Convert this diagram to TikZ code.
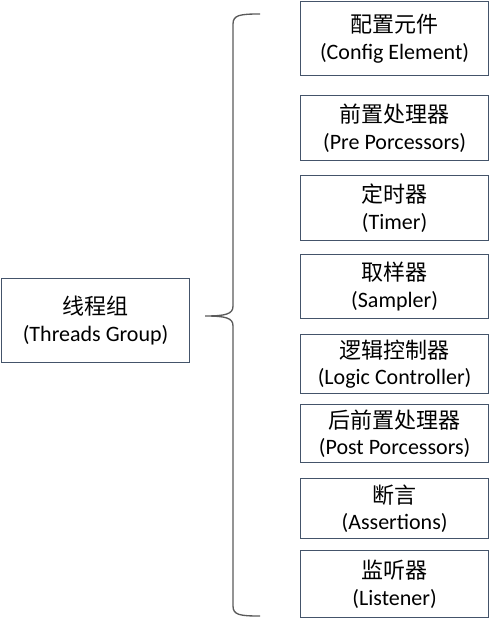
\documentclass[tikz,border=0pt]{standalone}
\usepackage{fontspec}
\setmainfont{Carlito}
\newfontfamily\cjk{Noto Sans CJK SC}
\begin{document}
\begin{tikzpicture}[x=0.75pt,y=-0.75pt,
  box/.style={draw=boxc, line width=0.9pt, fill=white, inner sep=0pt, align=center,
    font=\fontsize{16.5}{20}\selectfont},
  ]
\definecolor{boxc}{HTML}{44546A}
\definecolor{bracec}{HTML}{5A5A5A}
\useasboundingbox (0,0) rectangle (489,623);
\def\bx#1#2#3#4#5{\node[box, minimum width=188*0.75pt, minimum height=(#3-#2)*0.75pt, anchor=north west] (#1) at (300,#2) {{\cjk #4}\\#5};}
\bx{b1}{1}{75}{配置元件}{(Config Element)}
\bx{b2}{95}{160}{前置处理器}{(Pre Porcessors)}
\bx{b3}{175}{240}{定时器}{(Timer)}
\bx{b4}{254}{318}{取样器}{(Sampler)}
\bx{b5}{334}{393}{逻辑控制器}{(Logic Controller)}
\bx{b6}{404}{462}{后前置处理器}{(Post Porcessors)}
\bx{b7}{478}{538}{断言}{(Assertions)}
\bx{b8}{550}{617}{监听器}{(Listener)}
\node[box, minimum width=188*0.75pt, minimum height=84*0.75pt, anchor=north west] (tg) at (1,278) {{\cjk 线程组}\\(Threads Group)};
\coordinate (bt) at (260,14);
\coordinate (bb) at (260,616);
\coordinate (tip) at (205,316);
\draw[bracec, line width=1pt]
  (bt) .. controls (240,14) and (233,15) .. (233,24) -- (233,306)
  .. controls (233,314) and (226,316) .. (tip)
  .. controls (226,316) and (233,318) .. (233,326) -- (233,606)
  .. controls (233,615) and (240,616) .. (bb);
\end{tikzpicture}
\end{document}
